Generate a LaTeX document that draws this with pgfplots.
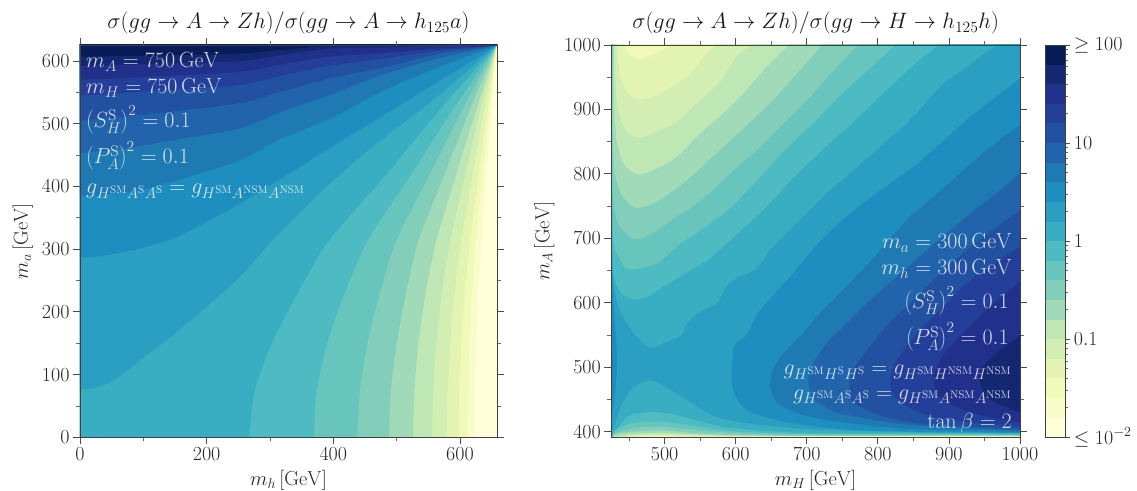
\RequirePackage{fix-cm}
\documentclass[border=0pt]{standalone}
\usepackage{pgfplots}
\pgfplotsset{compat=1.18}
\definecolor{c0}{RGB}{255,255,217}
\definecolor{c1}{RGB}{247,252,200}
\definecolor{c2}{RGB}{240,249,183}
\definecolor{c3}{RGB}{227,244,178}
\definecolor{c4}{RGB}{211,238,179}
\definecolor{c5}{RGB}{191,230,181}
\definecolor{c6}{RGB}{161,218,184}
\definecolor{c7}{RGB}{131,206,187}
\definecolor{c8}{RGB}{104,197,190}
\definecolor{c9}{RGB}{78,187,194}
\definecolor{c10}{RGB}{57,174,195}
\definecolor{c11}{RGB}{42,159,193}
\definecolor{c12}{RGB}{29,142,191}
\definecolor{c13}{RGB}{31,121,179}
\definecolor{c14}{RGB}{33,100,171}
\definecolor{c15}{RGB}{35,81,162}
\definecolor{c16}{RGB}{36,63,153}
\definecolor{c17}{RGB}{32,48,139}
\definecolor{c18}{RGB}{20,39,113}
\definecolor{c19}{RGB}{8,29,88}
\newcommand{\fs}{\fontsize{20}{24}\selectfont}
\newcommand{\fl}{\fontsize{20.3}{24}\selectfont}
\newcommand{\ft}{\fontsize{22.3}{26}\selectfont}
\newcommand{\fa}{\fontsize{22}{26}\selectfont}
\pgfplotsset{
  lev/.style={draw=none,fill=#1,mark=none,forget plot},
  sm/.style={lev=#1,smooth,tension=0.5},
  panel/.style={
    scale only axis, axis on top, tick align=outside,
    axis line style={black!75,line width=0.8pt},
    every tick/.append style={black!70,line width=0.8pt},
    every minor tick/.append style={black!60,line width=0.7pt},
    major tick length=7pt, minor tick length=4pt,
    tick label style={font=\fs,text=black!85},
    /pgf/number format/1000 sep={},
    title style={font=\ft,text=black!90,at={(axis description cs:0.5,1)},anchor=base,yshift=10pt},
    every axis x label/.style={at={(axis description cs:0.5,0)},anchor=base,yshift=-48pt,font=\fl,text=black!85},
  },
}
\begin{document}
\begin{tikzpicture}[x=1pt,y=1pt]
\useasboundingbox (0,0) rectangle (1137,490);
% ---------- left panel
\begin{axis}[panel,at={(80pt,52.7pt)},anchor=south west,width=417pt,height=392.3pt,
  xmin=0,xmax=658.5,ymin=0,ymax=625.6,
  xtick={0,200,400,600},minor xtick={100,300,500},
  ytick={0,100,200,300,400,500,600},minor ytick={50,150,250,350,450,550},
  title={$\sigma(gg\to A\to Zh)/\sigma(gg\to A\to h_{125}a)$},
  xlabel={$m_h\,[\mathrm{GeV}]$},ylabel={$m_a\,[\mathrm{GeV}]$},
  every axis y label/.style={at={(axis description cs:0,0.5)},rotate=90,anchor=base,yshift=52pt,font=\fl,text=black!85},
]
\addplot[lev=c0] coordinates {(0,0)(660,0)(660,630)(0,630)} -- cycle;
\addplot[sm=c1] coordinates {(-30,-30)(623,-30)(623,0)(623.6,75)(625.7,155)(629.1,235)(634,315)(641.6,421)(650,527)(658,625.6)(660,640)(-30,640)};
\addplot[sm=c2] coordinates {(-30,-30)(612,-30)(612,0)(612.7,75)(615.1,155)(619.2,235)(625,315)(636,421)(647,527)(658,625.6)(660,640)(-30,640)};
\addplot[sm=c3] coordinates {(-30,-30)(598,-30)(598,0)(599,75)(602.4,155)(608,235)(616,315)(630,421)(644,527)(658,625.6)(660,640)(-30,640)};
\addplot[sm=c4] coordinates {(-30,-30)(579.5,-30)(579.5,0)(580.8,75)(585,155)(592,235)(602,315)(620.6,421)(639,527)(658,625.6)(660,640)(-30,640)};
\addplot[sm=c5] coordinates {(-30,-30)(556,-30)(556,0)(557.6,75)(563,155)(572.1,235)(585,315)(609,421)(633,527)(658,625.6)(660,640)(-30,640)};
\addplot[sm=c6] coordinates {(-30,-30)(526,-30)(526,0)(528,75)(535,155)(546.6,235)(563,315)(594.8,421)(627,527)(658,625.6)(660,640)(-30,640)};
\addplot[sm=c7] coordinates {(-30,-30)(488,-30)(488,0)(491,75)(501,155)(516,235)(535,315)(576,421)(617.4,527)(658,625.6)(660,640)(-30,640)};
\addplot[sm=c8] coordinates {(-30,-30)(438,-30)(438,0)(442,75)(455,155)(475,235)(500,315)(553,421)(606,527)(658,625.6)(660,640)(-30,640)};
\addplot[sm=c9] coordinates {(-30,-30)(369,-30)(369,0)(374,75)(392,155)(420,235)(455,315)(524,421)(591.6,527)(658,625.6)(660,640)(-30,640)};
\addplot[sm=c10] coordinates {(-30,-30)(267,-30)(267,0)(274,65)(284,102)(305,155)(332,208)(358,256)(394,315)(485,421)(572,527)(658,625.6)(660,640)(-30,640)};
\addplot[sm=c11] coordinates {(-30,75)(0,75.5)(31.6,81)(63,97)(105,131)(147,163)(200,208.4)(252.6,256)(305,315)(395,405)(470,470)(560,540)(658,625.6)(660,640)(-30,640)};
\addplot[sm=c12] coordinates {(-30,287)(0,287)(31.6,289)(84,298.7)(142,315)(200,344)(253,373)(331.5,421)(395,462)(480,514)(570,570)(658,625.6)(660,640)(-30,640)};
\addplot[sm=c13] coordinates {(-30,384)(0,384)(84,392)(137,405)(189.5,421)(253,442)(320,477)(395,508)(480,553)(570,592)(658,625.6)(660,640)(-30,640)};
\addplot[sm=c14] coordinates {(-30,453)(0,453)(84,463)(165,477)(253,493)(320,520)(395,546)(480,579)(570,605)(658,625.6)(660,640)(-30,640)};
\addplot[sm=c15] coordinates {(-30,505)(0,505)(130,518)(253,533)(320,552)(395,572.5)(480,590)(570,612)(658,625.6)(660,640)(-30,640)};
\addplot[sm=c16] coordinates {(-30,545)(0,545)(130,553)(253,562)(320,577)(395,592.7)(480,604)(570,617)(658,625.6)(660,640)(-30,640)};
\addplot[sm=c17] coordinates {(-30,570)(0,570)(130,576)(253,583)(320,595)(395,607)(480,613)(570,620)(658,625.6)(660,640)(-30,640)};
\addplot[sm=c18] coordinates {(-30,592)(0,592)(130,596)(253,600)(320,610)(395,620)(480,621.5)(570,624)(658,625.6)(660,640)(-30,640)};
\addplot[sm=c19] coordinates {(-30,607)(0,607)(130,609)(253,612)(320,618)(395,624)(480,625)(570,625.6)(660,640)(-30,640)};
\end{axis}
% ---------- right panel
\begin{axis}[panel,at={(611.3pt,52.7pt)},anchor=south west,width=408.7pt,height=392.3pt,
  xmin=425,xmax=1000,ymin=391.3,ymax=1000,
  xtick={500,600,700,800,900,1000},minor xtick={450,550,650,750,850,950},
  ytick={400,500,600,700,800,900,1000},minor ytick={450,550,650,750,850,950},
  title={$\sigma(gg\to A\to Zh)/\sigma(gg\to H\to h_{125}h)$},
  xlabel={$m_H\,[\mathrm{GeV}]$},ylabel={$m_A\,[\mathrm{GeV}]$},
  every axis y label/.style={at={(axis description cs:0,0.5)},rotate=90,anchor=base,yshift=62pt,font=\fl,text=black!85},
]
\addplot[lev=c11] coordinates {(420,385)(1005,385)(1005,1005)(420,1005)} -- cycle;
% high values towards the lower right
\addplot[sm=c12] coordinates {(1000,948.3)(967,920)(925,883.7)(883,842.3)(850,811)(798,770)(756,733.8)(721,697.5)(700,671.6)(681,645.8)(653,612)(629.5,581)(615.5,550)(599,534.6)(595,501)(595,470)(604,446.8)(620,431)(648,421)(686,412)(761,403)(850,400)(1000,398)(1005,398)(1005,948.3)};
\addplot[sm=c13] coordinates {(1000,876)(953,837)(911,796)(873,759.6)(840.5,728.6)(790,665)(742,609.6)(718.6,583.8)(695,552.7)(676.4,532)(660,511.4)(650.6,490.7)(649,465)(660,444)(686,428.7)(714,421)(761,413)(850,404)(1000,399.5)(1005,399.5)(1005,876)};
\addplot[sm=c14] coordinates {(1000,801)(967,770)(929.6,738)(883,695)(859,672)(822,636)(789,604)(756,568)(728,537)(709,506)(702,480)(709,452)(733,433.8)(756,426)(850,410)(1000,401.5)(1005,401.5)(1005,801)};
\addplot[sm=c15] coordinates {(1000,744)(958,710)(920,677)(883,640.6)(845,599)(812,563)(789,532)(768,501)(760.4,475)(763,449)(784,434)(817,421)(873,411)(1000,404)(1005,404)(1005,744)};
\addplot[sm=c16] coordinates {(1000,687)(962.5,661)(925,630)(892,594)(864,563)(840.5,532)(824,506)(817,480)(824,454.5)(850,434)(887,421)(940,413)(1000,408)(1005,408)(1005,687)};
\addplot[sm=c17] coordinates {(1000,633)(957.8,594)(929.6,563)(906,537)(887.4,511)(878,480)(887,454.5)(920,434)(960,422)(1000,414)(1005,414)(1005,633)};
\addplot[sm=c18] coordinates {(1000,550)(967,521.7)(948.4,501)(943,480)(953,454.5)(975,441)(1000,430)(1005,430)(1005,550)};
% strip on the left edge
\addplot[sm=c12] coordinates {(420,680)(425,680)(428,600)(432,540)(433,500)(431,470)(428,440)(425,415)(420,415)};
\addplot[sm=c13] coordinates {(420,600)(425,600)(426.5,530)(427,490)(426,450)(425,430)(420,430)};
% tongue at the upper left
\addplot[sm=c10] coordinates {(425.1,1005)(425.1,1000)(426,750)(427,646)(432.5,604.4)(444,573.4)(460.7,547.6)(479.4,529.5)(498,537.2)(524,550.2)(531,568.3)(550,586.3)(573,599.3)(587,625)(601.4,638)(629.5,653.6)(648,682)(662.4,697.5)(690.4,728.6)(723,764.8)(760.8,801)(803,842.3)(850,888.9)(887.4,935.4)(925,966.4)(967,1000)(967,1005)};
\addplot[sm=c9] coordinates {(425.2,1005)(425.2,1000)(426,800)(427,666.5)(431.6,630)(442,612)(458,605.5)(475,608.6)(498,625)(521.6,640.6)(545,656)(564,669)(600,705)(640,745)(680,793)(720,835)(760,875)(803,920)(850,969)(885,1000)(885,1005)};
\addplot[sm=c8] coordinates {(425.5,1005)(425.5,1000)(426,800)(428,697.5)(433.5,677)(444,656)(458,652)(489,661)(520,690)(550,712)(590,745)(630,790)(670,838)(710,880)(750,925)(790,965)(824,1000)(824,1005)};
\addplot[sm=c7] coordinates {(426.4,1005)(426.4,1000)(426.4,811)(428.8,749.3)(437,718.2)(456,699)(479.4,705.3)(517,733.8)(554.5,762)(592,801)(629.5,837.1)(667,878.5)(704.6,919.9)(747,971.6)(772.5,1000)(772.5,1005)};
\addplot[sm=c6] coordinates {(427.4,1005)(427.4,1000)(427.4,863)(430,801)(439.6,767.4)(458.3,747.7)(484,754.4)(517,777.7)(545,803.5)(573,832)(610.8,870.8)(648,909.5)(686,956)(721,1000)(721,1005)};
\addplot[sm=c5] coordinates {(428.3,1005)(428.3,1000)(428.8,914.7)(432.5,852.7)(442,816.5)(460.7,799.4)(484,806)(517,826.8)(550,863)(582.6,894)(610.8,925)(639,961)(674,1000)(674,1005)};
\addplot[sm=c4] coordinates {(430,1005)(430,1000)(431.6,930)(437,889)(449,863)(465.4,856)(489,865.6)(517,881)(545,909.5)(578,943)(601,982)(622.5,1000)(622.5,1005)};
\addplot[sm=c3] coordinates {(433.5,1005)(433.5,1000)(437,956)(446.6,927.6)(465.4,915.7)(489,922.5)(517,940.5)(540.4,961)(557,984.5)(571,1000)(571,1005)};
\addplot[sm=c2] coordinates {(442,1005)(442,1000)(451,984.5)(465,978)(484,984.5)(507.6,1000)(507.6,1005)};
% strip along the bottom
\addplot[sm=c10] coordinates {(420,385)(420,397)(425,400)(429,408)(438.7,439)(452.7,465)(471.5,477.8)(485.6,477.8)(504.3,467.5)(523,454.6)(542,441.6)(565.3,426)(598,416)(635.6,410.6)(682.5,405.4)(720,403)(850,399)(1005,397)(1005,385)};
\addplot[sm=c9] coordinates {(420,385)(425,391)(428.3,395)(448,423.5)(476,430)(504.3,428.7)(542,418.4)(579,408)(635.6,401.8)(720,397.7)(1005,396)(1005,385)};
\addplot[sm=c8] coordinates {(420,385)(425,391)(431.6,403)(452.7,413)(481,415.8)(509,414.2)(546.5,408)(589,401.3)(659,397.7)(720,396)(1005,395)(1005,385)};
\addplot[sm=c7] coordinates {(425,385)(428,392)(433,399)(457.4,405.4)(485.6,408)(518,405.4)(565,400.3)(635.6,396)(720,395)(1005,394.2)(1005,385)};
\addplot[sm=c6] coordinates {(425,385)(430,396)(457.4,400)(490,402)(528,399)(583,395.5)(720,393.5)(1005,393.5)(1005,385)};
\addplot[sm=c5] coordinates {(425,385)(430,393)(460,397)(495,398.5)(530,396.5)(590,394)(720,392.8)(1005,393)(1005,385)};
\addplot[sm=c4] coordinates {(430,385)(440,393.5)(495,396)(540,394.5)(620,392.8)(1005,392.6)(1005,385)};
\addplot[sm=c3] coordinates {(430,385)(450,392.5)(495,394.5)(550,393)(1005,392.3)(1005,385)};
\addplot[sm=c2] coordinates {(430,385)(470,392)(500,393)(560,392)(1005,392)(1005,385)};
\addplot[sm=c1] coordinates {(430,385)(480,391.7)(510,392.3)(570,391.7)(1005,391.6)(1005,385)};
\end{axis}
% ---------- colour bar
\begin{axis}[panel,at={(1045.3pt,52.7pt)},anchor=south west,width=20pt,height=392.3pt,
  ymode=log,xmin=0,xmax=1,ymin=0.01,ymax=100,xtick=\empty,
  ytick pos=right,yticklabel pos=right,
  ytick={0.01,0.1,1,10,100},
  yticklabels={$\leq 10^{-2}$,$0.1$,$1$,$10$,$\geq 100$},
  minor ytick={0.02,0.03,0.04,0.05,0.06,0.07,0.08,0.09,0.2,0.3,0.4,0.5,0.6,0.7,0.8,0.9,2,3,4,5,6,7,8,9,20,30,40,50,60,70,80,90},
  major tick length=5pt, minor tick length=3pt,
]
\addplot[lev=c0] coordinates {(0,0.01)(1,0.01)(1,0.01585)(0,0.01585)} -- cycle;
\addplot[lev=c1] coordinates {(0,0.01585)(1,0.01585)(1,0.02512)(0,0.02512)} -- cycle;
\addplot[lev=c2] coordinates {(0,0.02512)(1,0.02512)(1,0.03981)(0,0.03981)} -- cycle;
\addplot[lev=c3] coordinates {(0,0.03981)(1,0.03981)(1,0.0631)(0,0.0631)} -- cycle;
\addplot[lev=c4] coordinates {(0,0.0631)(1,0.0631)(1,0.1)(0,0.1)} -- cycle;
\addplot[lev=c5] coordinates {(0,0.1)(1,0.1)(1,0.1585)(0,0.1585)} -- cycle;
\addplot[lev=c6] coordinates {(0,0.1585)(1,0.1585)(1,0.2512)(0,0.2512)} -- cycle;
\addplot[lev=c7] coordinates {(0,0.2512)(1,0.2512)(1,0.3981)(0,0.3981)} -- cycle;
\addplot[lev=c8] coordinates {(0,0.3981)(1,0.3981)(1,0.631)(0,0.631)} -- cycle;
\addplot[lev=c9] coordinates {(0,0.631)(1,0.631)(1,1)(0,1)} -- cycle;
\addplot[lev=c10] coordinates {(0,1)(1,1)(1,1.585)(0,1.585)} -- cycle;
\addplot[lev=c11] coordinates {(0,1.585)(1,1.585)(1,2.512)(0,2.512)} -- cycle;
\addplot[lev=c12] coordinates {(0,2.512)(1,2.512)(1,3.981)(0,3.981)} -- cycle;
\addplot[lev=c13] coordinates {(0,3.981)(1,3.981)(1,6.31)(0,6.31)} -- cycle;
\addplot[lev=c14] coordinates {(0,6.31)(1,6.31)(1,10)(0,10)} -- cycle;
\addplot[lev=c15] coordinates {(0,10)(1,10)(1,15.85)(0,15.85)} -- cycle;
\addplot[lev=c16] coordinates {(0,15.85)(1,15.85)(1,25.12)(0,25.12)} -- cycle;
\addplot[lev=c17] coordinates {(0,25.12)(1,25.12)(1,39.81)(0,39.81)} -- cycle;
\addplot[lev=c18] coordinates {(0,39.81)(1,39.81)(1,63.1)(0,63.1)} -- cycle;
\addplot[lev=c19] coordinates {(0,63.1)(1,63.1)(1,100)(0,100)} -- cycle;
\end{axis}
% ---------- annotations
\tikzset{ann/.style={text=white,text opacity=0.8,font=\fa,inner sep=0pt}}
\node[ann,anchor=base west] at (86,490-68) {$m_A=750\,\mathrm{GeV}$};
\node[ann,anchor=base west] at (86,490-94) {$m_H=750\,\mathrm{GeV}$};
\node[ann,anchor=base west] at (86,490-128) {$\left(S^{\mathrm{S}}_H\right)^2=0.1$};
\node[ann,anchor=base west] at (86,490-164) {$\left(P^{\mathrm{S}}_A\right)^2=0.1$};
\node[ann,anchor=base west] at (86,490-194) {$g_{H^{\mathrm{SM}}A^{\mathrm{S}}A^{\mathrm{S}}}=g_{H^{\mathrm{SM}}A^{\mathrm{NSM}}A^{\mathrm{NSM}}}$};
\node[ann,anchor=base east] at (1012,490-249) {$m_a=300\,\mathrm{GeV}$};
\node[ann,anchor=base east] at (1012,490-275) {$m_h=300\,\mathrm{GeV}$};
\node[ann,anchor=base east] at (1009,490-309) {$\left(S^{\mathrm{S}}_H\right)^2=0.1$};
\node[ann,anchor=base east] at (1009,490-345) {$\left(P^{\mathrm{S}}_A\right)^2=0.1$};
\node[ann,anchor=base east] at (1012,490-375) {$g_{H^{\mathrm{SM}}H^{\mathrm{S}}H^{\mathrm{S}}}=g_{H^{\mathrm{SM}}H^{\mathrm{NSM}}H^{\mathrm{NSM}}}$};
\node[ann,anchor=base east] at (1012,490-399) {$g_{H^{\mathrm{SM}}A^{\mathrm{S}}A^{\mathrm{S}}}=g_{H^{\mathrm{SM}}A^{\mathrm{NSM}}A^{\mathrm{NSM}}}$};
\node[ann,anchor=base east] at (1012,490-428) {$\tan\beta=2$};
\end{tikzpicture}
\end{document}
